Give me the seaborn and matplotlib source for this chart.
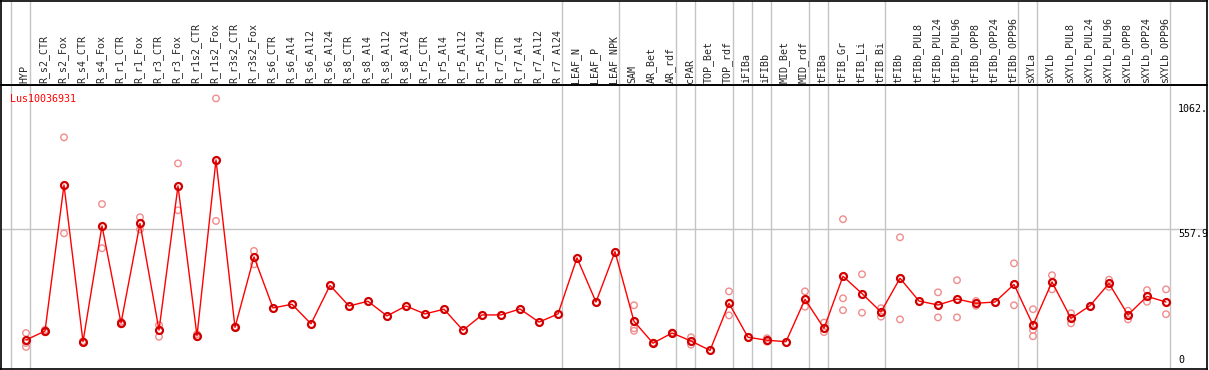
import numpy as np
import pandas as pd
import matplotlib
matplotlib.use('Agg')
import matplotlib.pyplot as plt
import matplotlib.transforms as mtransforms
import seaborn as sns

gene = 'Lus10036931'

samples = ['HYP', 'R_s2_CTR', 'R_s2_Fox', 'R_s4_CTR', 'R_s4_Fox', 'R_r1_CTR', 'R_r1_Fox',
           'R_r3_CTR', 'R_r3_Fox', 'R_r1s2_CTR', 'R_r1s2_Fox', 'R_r3s2_CTR', 'R_r3s2_Fox',
           'R_s6_CTR', 'R_s6_Al4', 'R_s6_Al12', 'R_s6_Al24', 'R_s8_CTR', 'R_s8_Al4',
           'R_s8_Al12', 'R_s8_Al24', 'R_r5_CTR', 'R_r5_Al4', 'R_r5_Al12', 'R_r5_Al24',
           'R_r7_CTR', 'R_r7_Al4', 'R_r7_Al12', 'R_r7_Al24', 'LEAF_N', 'LEAF_P', 'LEAF_NPK',
           'SAM', 'AR_Bet', 'AR_rdf', 'cPAR', 'TOP_Bet', 'TOP_rdf', 'iFIBa', 'iFIBb',
           'MID_Bet', 'MID_rdf', 'tFIBa', 'tFIB_Gr', 'tFIB_Li', 'tFIB_Bi', 'tFIBb',
           'tFIBb_PUL8', 'tFIBb_PUL24', 'tFIBb_PUL96', 'tFIBb_OPP8', 'tFIBb_OPP24',
           'tFIBb_OPP96', 'sXYLa', 'sXYLb', 'sXYLb_PUL8', 'sXYLb_PUL24', 'sXYLb_PUL96',
           'sXYLb_OPP8', 'sXYLb_OPP24', 'sXYLb_OPP96']

# mean expression (red line)
means = [109, 145, 734, 102, 569, 177, 579, 149, 730, 126, 835, 160, 444,
         238, 253, 174, 329, 246, 265, 206, 246, 214, 233, 148, 210, 210, 234, 181, 214,
         440, 262, 465,
         184, 96, 137, 105, 67, 257, 120, 108, 102, 273, 156, 366, 296, 222, 358,
         266, 250, 274, 257, 262, 333, 169, 343, 196, 247, 337, 210, 285, 262]

# replicate values (light circles), empty where only the mean is shown
reps = [[137, 97, 81], [150, 140], [926, 539], [100, 104], [657, 479], [183, 172],
        [604, 555], [169, 122], [821, 632], [132, 120], [1083, 589], [162, 158], [468, 414],
        [], [], [], [], [], [], [], [], [], [], [], [], [], [], [], [],
        [], [], [],
        [249, 156, 146], [98, 94], [139, 135], [120, 90], [], [305, 208], [], [116, 102],
        [], [305, 243], [179, 141], [596, 277, 229], [374, 219], [237, 203], [523, 192],
        [], [301, 200], [350, 200], [266, 247], [], [418, 249], [233, 149, 124],
        [370, 313], [217, 176], [], [352, 323], [227, 192], [310, 263], [313, 213]]

group_ends = [-1, 0, 28, 31, 34, 35, 37, 38, 39, 41, 42, 45, 52, 53, 60]
ytick_vals = [1062, 557.9, 0]
ytick_text = ['1062.', '557.9', '0']

rep_df = pd.DataFrame([(i, v) for i, r in enumerate(reps) for v in r], columns=['pos', 'value'])
mean_df = pd.DataFrame({'pos': np.arange(len(samples)), 'value': means})

sns.set_style('white')
plt.rcParams['font.family'] = ['DejaVu Sans Mono']

W, H = 1209, 370
fig = plt.figure(figsize=(W / 100, H / 100), dpi=100)
x0, x1 = 0.5, 1207
ax = fig.add_axes([x0 / W, 1 / H, (x1 - x0) / W, 284 / H])
hd = fig.add_axes([x0 / W, 285 / H, (x1 - x0) / W, 84.5 / H])
hd.patch.set_facecolor('none')

xlim = ((x0 - 26) / 19, (x1 - 26) / 19)
for a in (ax, hd):
    a.set_xlim(*xlim)
    for s in a.spines.values():
        s.set_color('black')
        s.set_linewidth(1.2)
    for g in group_ends:
        a.axvline(g + 0.23, color='#c4c4c4', lw=1, zorder=0)
hd.set_ylim(0, 1)
hd.set_xticks([])
hd.set_yticks([])

ax.set_ylim((367 - 369) / 0.248, (367 - 85) / 0.248)
ax.axhline(557.9, color='#c4c4c4', lw=1, zorder=0)

sns.scatterplot(data=rep_df, x='pos', y='value', ax=ax, marker='o', s=22,
                facecolors='none', edgecolor='#f08c8c', linewidth=1, zorder=2, legend=False)
sns.lineplot(data=mean_df, x='pos', y='value', ax=ax, color='red', lw=1,
             marker='o', markersize=5, markerfacecolor='none',
             markeredgecolor='#d00000', markeredgewidth=1.6, zorder=3)

ax.xaxis.tick_top()
ax.set_xticks(mean_df['pos'])
ax.set_xticklabels(samples, rotation=90, fontsize=7.2)
ax.tick_params(axis='x', length=0, pad=1.5)
shift = mtransforms.ScaledTranslation(-1.5 / 100, 0, fig.dpi_scale_trans)
for lab in ax.get_xticklabels():
    lab.set_transform(lab.get_transform() + shift)
ax.set_yticks([])
ax.set_xlabel('')
ax.set_ylabel('')

ytr = ax.get_yaxis_transform()
for v, t in zip(ytick_vals, ytick_text):
    ax.text((1178 - x0) / (x1 - x0), v + (8 if v == 0 else 0), t, transform=ytr,
            ha='left', va='bottom' if v == 0 else 'top', fontsize=7.2, color='black')

ax.text((10 - x0) / (x1 - x0), 1 - 9 / 284, gene, transform=ax.transAxes,
        ha='left', va='top', fontsize=7.2, color='red')

fig.savefig('out.png', dpi=100)
